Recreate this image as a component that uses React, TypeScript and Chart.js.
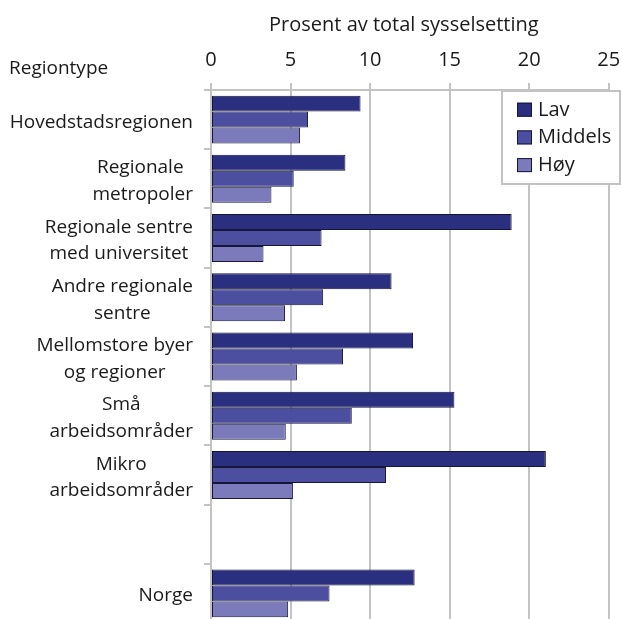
import React, { useEffect, useRef } from "react";
import { Chart, registerables } from "chart.js";

Chart.register(...registerables);

const categories: (string | string[])[] = [
  "Hovedstadsregionen",
  ["Regionale ", "metropoler"],
  ["Regionale sentre", "med universitet"],
  ["Andre regionale", "sentre"],
  ["Mellomstore byer", "og regioner"],
  ["Små", "arbeidsområder"],
  ["Mikro", "arbeidsområder"],
  "",
  "Norge",
];
const seriesNames = ["Lav", "Middels", "Høy"];
const lav = [9.4, 8.45, 18.9, 11.35, 12.7, 15.3, 21.05, null, 12.8];
const middels = [6.1, 5.2, 6.95, 7.05, 8.3, 8.85, 11.0, null, 7.45];
const hoy = [5.6, 3.8, 3.3, 4.65, 5.4, 4.7, 5.15, null, 4.85];
const xTicks = [0, 5, 10, 15, 20, 25];
const axisTitle = "Prosent av total sysselsetting";
const categoryTitle = "Regiontype";
const colors = ["#2b2f7f", "#4c4fa0", "#7b7bbb"];

const FONT = "'Open Sans', sans-serif";
const TEXT = "#1a1a1a";
const GRID = "#c3c3c3";
const EDGE = "#16163a";

const textPlugin = {
  id: "customText",
  afterDraw(chart: any) {
    const ctx = chart.ctx;
    const ys = chart.scales.y;
    const xs = chart.scales.x;
    ctx.save();
    ctx.fillStyle = TEXT;
    ctx.textBaseline = "alphabetic";
    ctx.font = `19px ${FONT}`;
    ctx.textAlign = "center";
    const rightEdge = ys.right - 18;
    categories.forEach((lab, i) => {
      const lines = Array.isArray(lab) ? lab : [lab];
      if (!lines.join("").trim()) return;
      const w = Math.max(...lines.map((l) => ctx.measureText(l).width));
      const cx = rightEdge - w / 2;
      const cy = ys.getPixelForValue(i);
      lines.forEach((l, k) => {
        ctx.fillText(l, cx, cy + 8 + (k - (lines.length - 1) / 2) * 26.7);
      });
    });
    // axis title
    ctx.font = `20px ${FONT}`;
    ctx.fillText(axisTitle, (xs.left + xs.right) / 2 - 6, 30.7);
    // category title
    ctx.textAlign = "left";
    ctx.font = `19px ${FONT}`;
    ctx.fillText(categoryTitle, 9, 74.3);

    // legend
    const lx = 502, ly = 91, lw = 118, lh = 93;
    ctx.fillStyle = "#ffffff";
    ctx.fillRect(lx, ly, lw, lh);
    ctx.strokeStyle = GRID;
    ctx.lineWidth = 2;
    ctx.strokeRect(lx, ly, lw, lh);
    ctx.font = `20px ${FONT}`;
    chart.data.datasets.forEach((ds: any, i: number) => {
      const cy = 109.7 + i * 27.7;
      ctx.fillStyle = ds.backgroundColor;
      ctx.fillRect(517, cy - 7, 15, 14);
      ctx.strokeStyle = EDGE;
      ctx.lineWidth = 1;
      ctx.strokeRect(517.5, cy - 6.5, 14, 13);
      ctx.fillStyle = TEXT;
      ctx.fillText(ds.label, 538, cy + 6);
    });
    ctx.restore();
  },
};

export default function App() {
  const ref = useRef<HTMLCanvasElement | null>(null);
  useEffect(() => {
    if (!ref.current) return;
    const series = [lav, middels, hoy];
    const chart = new Chart(ref.current, {
      type: "bar",
      data: {
        labels: categories.map((c) => (Array.isArray(c) ? c.join(" ") : c)),
        datasets: series.map((d, i) => ({
          label: seriesNames[i],
          data: d as any,
          backgroundColor: colors[i],
          borderColor: EDGE,
          borderWidth: 1,
          borderSkipped: false,
          categoryPercentage: 0.81,
          barPercentage: 1,
        })),
      },
      options: {
        indexAxis: "y",
        animation: false,
        responsive: true,
        maintainAspectRatio: false,
        layout: { padding: { left: 0, right: 13.3, top: 0, bottom: 0 } },
        plugins: { legend: { display: false }, tooltip: { enabled: false } },
        scales: {
          x: {
            position: "top",
            min: xTicks[0],
            max: xTicks[xTicks.length - 1],
            afterFit: (s: any) => {
              s.height = 90;
              s.paddingLeft = 0;
              s.paddingRight = 0;
            },
            ticks: {
              stepSize: xTicks[1] - xTicks[0],
              font: { family: FONT, size: 20 },
              color: TEXT,
              padding: 11,
            },
            grid: { color: GRID, lineWidth: 2, tickLength: 7, drawTicks: true },
            border: { display: true, color: GRID, width: 2 },
          },
          y: {
            afterFit: (s: any) => {
              s.width = 211;
              s.paddingTop = 0;
              s.paddingBottom = 0;
            },
            ticks: { display: false },
            grid: {
              color: GRID,
              lineWidth: 2,
              tickLength: 7,
              drawOnChartArea: false,
              offset: true,
            },
            border: { display: true, color: GRID, width: 2 },
          },
        },
      },
      plugins: [textPlugin],
    });
    return () => chart.destroy();
  }, []);
  return (
    <div style={{ position: "fixed", left: 0, top: 0, width: 622, height: 623 }}>
      <canvas ref={ref} />
    </div>
  );
}
